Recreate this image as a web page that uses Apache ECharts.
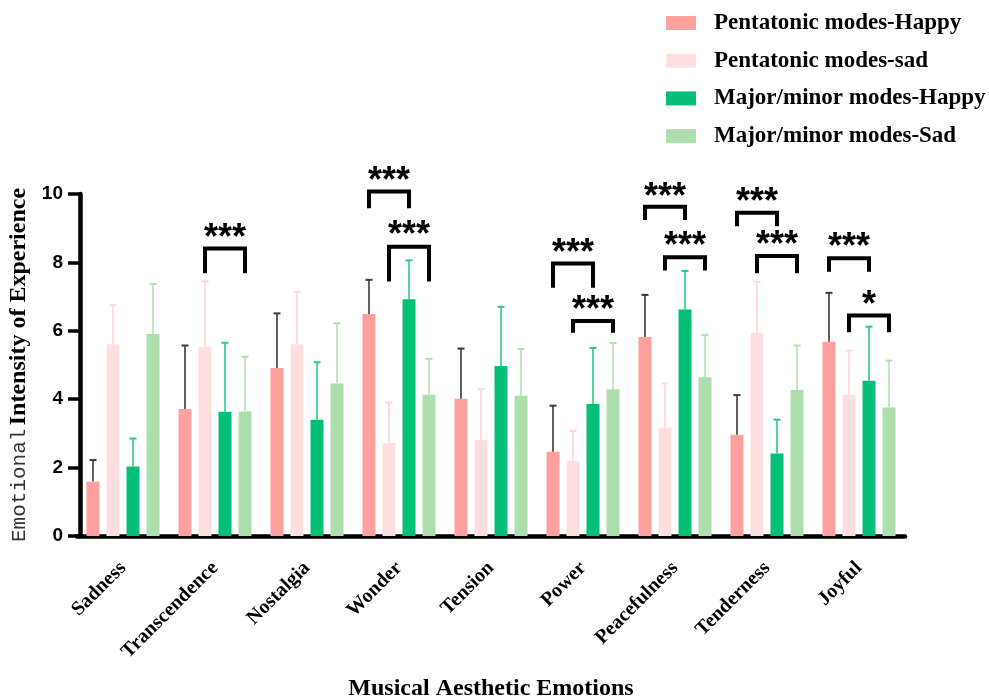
<!DOCTYPE html>
<html>
<head>
<meta charset="utf-8">
<script src="https://cdn.jsdelivr.net/npm/echarts@6/dist/echarts.min.js"></script>
<style>html,body{margin:0;padding:0;background:#fff}#c{width:989px;height:698px}</style>
</head>
<body>
<div id="c"></div>
<script>
const categories = ['Sadness','Transcendence','Nostalgia','Wonder','Tension','Power','Peacefulness','Tenderness','Joyful'];
const seriesNames = ['Pentatonic modes-Happy','Pentatonic modes-sad','Major/minor modes-Happy','Major/minor modes-Sad'];
const pentaHappy    = [1.59, 3.71, 4.91, 6.49, 4.01, 2.46, 5.82, 2.96, 5.68];
const pentaHappyErr = [0.63, 1.86, 1.60, 1.00, 1.47, 1.35, 1.23, 1.16, 1.43];
const pentaSad      = [5.61, 5.53, 5.61, 2.72, 2.81, 2.19, 3.17, 5.94, 4.13];
const pentaSadErr   = [1.14, 1.92, 1.53, 1.18, 1.48, 0.88, 1.29, 1.49, 1.29];
const majorHappy    = [2.03, 3.63, 3.40, 6.92, 4.97, 3.86, 6.62, 2.41, 4.54];
const majorHappyErr = [0.82, 2.02, 1.68, 1.14, 1.73, 1.64, 1.13, 0.99, 1.58];
const majorSad      = [5.91, 3.64, 4.46, 4.13, 4.10, 4.29, 4.64, 4.27, 3.76];
const majorSadErr   = [1.46, 1.60, 1.76, 1.05, 1.37, 1.35, 1.24, 1.30, 1.37];
const yTicks = [0, 2, 4, 6, 8, 10];

// significance brackets: category index, from bar, to bar, bar top, leg bottom, star centre, label
const bracketCat   = [1, 3, 3, 5, 5, 6, 6, 7, 7, 8, 8];
const bracketFrom  = [1, 0, 1, 0, 1, 0, 1, 0, 1, 0, 1];
const bracketTo    = [3, 2, 3, 2, 3, 2, 3, 2, 3, 2, 3];
const bracketTop   = [8.41, 10.07, 8.46, 7.97, 6.29, 9.63, 8.15, 9.45, 8.19, 8.12, 6.45];
const bracketLeg   = [7.68, 9.58, 7.44, 7.26, 5.94, 9.24, 7.76, 9.06, 7.68, 7.73, 5.96];
const bracketStar  = [8.92, 10.58, 8.99, 8.49, 6.82, 10.12, 8.68, 9.97, 8.70, 8.65, 6.95];
const bracketLabel = ['***','***','***','***','***','***','***','***','***','***','*'];

const means = [pentaHappy, pentaSad, majorHappy, majorSad];
const errs = [pentaHappyErr, pentaSadErr, majorHappyErr, majorSadErr];
const colors = ['#FFA09E', '#FFDEE0', '#06BF77', '#AEDEAE'];
const errColors = ['#3a3a3a', '#FFD6DA', '#2ECB8A', '#B5E0B5'];
const BAR_W = 13, BAR_PITCH = 20;
const offs = [-1.5, -0.5, 0.5, 1.5].map(k => k * BAR_PITCH);

const series = [];
means.forEach((m, s) => {
  series.push({
    name: seriesNames[s], type: 'bar', data: m, barWidth: BAR_W, barGap: '54%',
    itemStyle: { color: colors[s] }, z: 2
  });
});
means.forEach((m, s) => {
  series.push({
    type: 'custom', silent: true, z: 3, clip: false,
    data: m.map((v, i) => [i, v, v + errs[s][i]]),
    encode: { x: 0, y: [1, 2] },
    renderItem: function (params, api) {
      const base = api.coord([api.value(0), api.value(1)]);
      const top = api.coord([api.value(0), api.value(2)]);
      const x = base[0] + offs[s];
      const st = { stroke: errColors[s], lineWidth: 1.6 };
      return { type: 'group', children: [
        { type: 'line', shape: { x1: x, y1: base[1], x2: x, y2: top[1] }, style: st },
        { type: 'line', shape: { x1: x - 3.5, y1: top[1], x2: x + 3.5, y2: top[1] }, style: { stroke: errColors[s], lineWidth: 2 } }
      ]};
    }
  });
});
series.push({
  type: 'custom', silent: true, z: 4, clip: false,
  data: bracketCat.map((c, i) => [c, bracketTop[i]]),
  encode: { x: 0, y: 1 },
  renderItem: function (params, api) {
    const i = params.dataIndex;
    const c = bracketCat[i];
    const pTop = api.coord([c, bracketTop[i]]);
    const pLeg = api.coord([c, bracketLeg[i]]);
    const pStar = api.coord([c, bracketStar[i]]);
    const x1 = pTop[0] + offs[bracketFrom[i]];
    const x2 = pTop[0] + offs[bracketTo[i]];
    return { type: 'group', children: [
      { type: 'polyline', shape: { points: [[x1, pLeg[1]], [x1, pTop[1]], [x2, pTop[1]], [x2, pLeg[1]]] },
        style: { stroke: '#000', lineWidth: 4, fill: null, lineJoin: 'miter', lineCap: 'butt' } },
      { type: 'text', x: (x1 + x2) / 2, y: pStar[1] + 8,
        style: { text: bracketLabel[i], fill: '#000', font: 'bold 36px "Liberation Sans", Arial, sans-serif',
          textAlign: 'center', textVerticalAlign: 'middle' } }
    ]};
  }
});

const chart = echarts.init(document.getElementById('c'), null, { renderer: 'canvas' });
chart.setOption({
  animation: false,
  backgroundColor: '#fff',
  grid: { left: 77, right: 84, top: 194, bottom: 162, containLabel: false, outerBoundsMode: 'none' },
  legend: {
    data: seriesNames, orient: 'vertical', left: 661, top: 6,
    itemWidth: 30, itemHeight: 14, itemGap: 13.7,
    icon: 'rect',
    textStyle: { fontFamily: '"Liberation Serif", "Times New Roman", serif', fontWeight: 'bold', fontSize: 23, color: '#000', lineHeight: 24, padding: [0, 0, 0, 13] }
  },
  xAxis: {
    type: 'category', data: categories, boundaryGap: true,
    name: 'Musical Aesthetic Emotions', nameLocation: 'middle', nameGap: 141,
    nameTextStyle: { fontFamily: '"Liberation Serif", "Times New Roman", serif', fontWeight: 'bold', fontSize: 24, color: '#000' },
    axisLine: { lineStyle: { color: '#000', width: 4.5 } },
    axisTick: { alignWithLabel: true, length: 12, lineStyle: { color: '#000', width: 3.5 } },
    axisLabel: { rotate: 45, margin: 29, interval: 0, color: '#000', fontFamily: '"Liberation Serif", "Times New Roman", serif', fontWeight: 'bold', fontSize: 20 }
  },
  yAxis: {
    type: 'value', min: yTicks[0], max: yTicks[yTicks.length - 1], interval: 2, offset: -3,
    name: '{a|Emotional} {b|Intensity of Experience}', nameLocation: 'middle', nameRotate: 90, nameGap: 46,
    nameTextStyle: { rich: {
      a: { fontFamily: '"Liberation Mono", monospace', fontSize: 21, color: '#333' },
      b: { fontFamily: '"Liberation Serif", "Times New Roman", serif', fontWeight: 'bold', fontSize: 24, color: '#000' }
    }},
    splitLine: { show: false },
    axisLine: { show: true, lineStyle: { color: '#000', width: 4.5 } },
    axisTick: { show: true, length: 12, lineStyle: { color: '#000', width: 3.5 } },
    axisLabel: { margin: 17, color: '#000', fontFamily: '"Liberation Sans", Arial, sans-serif', fontWeight: 'bold', fontSize: 19 }
  },
  series: series
});
</script>
</body>
</html>
